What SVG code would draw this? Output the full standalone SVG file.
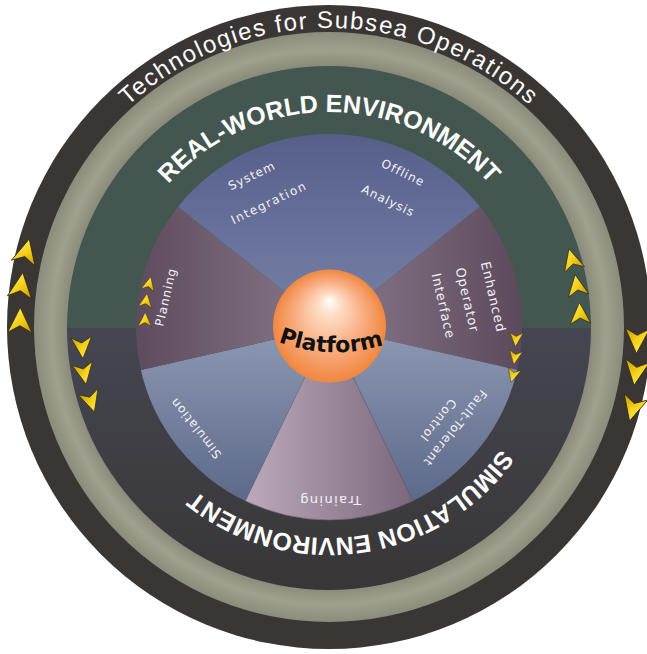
<svg xmlns="http://www.w3.org/2000/svg" xmlns:xlink="http://www.w3.org/1999/xlink" width="647" height="654" viewBox="0 0 647 654">
<defs>
<style>
.lbl{font-family:"DejaVu Sans",Verdana,sans-serif;fill:#f4f2f6;font-size:12px;letter-spacing:1px;text-anchor:middle}
.big{font-family:"Liberation Sans",Arial,sans-serif;font-weight:bold;fill:#ffffff;font-size:25px;text-anchor:middle}
.chev{fill:url(#gChev);stroke:#2e2a10;stroke-width:0.6}
</style>
<radialGradient id="gGray" cx="329" cy="327" r="295" gradientUnits="userSpaceOnUse">
<stop offset="0.885" stop-color="#8a8a7a"/>
<stop offset="0.94" stop-color="#a0a08e"/>
<stop offset="1" stop-color="#8c8c7c"/>
</radialGradient>
<linearGradient id="gBottom" x1="0" y1="328" x2="0" y2="589" gradientUnits="userSpaceOnUse">
<stop offset="0" stop-color="#454651"/>
<stop offset="1" stop-color="#383636"/>
</linearGradient>
<linearGradient id="gTop" x1="0" y1="134" x2="0" y2="327" gradientUnits="userSpaceOnUse">
<stop offset="0" stop-color="#555f8a"/>
<stop offset="1" stop-color="#7882a8"/>
</linearGradient>
<linearGradient id="gLow" x1="0" y1="340" x2="0" y2="505" gradientUnits="userSpaceOnUse">
<stop offset="0" stop-color="#8a95b0"/>
<stop offset="1" stop-color="#5c6889"/>
</linearGradient>
<linearGradient id="gPlan" x1="136" y1="0" x2="320" y2="0" gradientUnits="userSpaceOnUse">
<stop offset="0" stop-color="#5e4b5e"/>
<stop offset="1" stop-color="#877689"/>
</linearGradient>
<linearGradient id="gEnh" x1="340" y1="0" x2="522" y2="0" gradientUnits="userSpaceOnUse">
<stop offset="0" stop-color="#877689"/>
<stop offset="1" stop-color="#5c4a5c"/>
</linearGradient>
<linearGradient id="gTrain" x1="245" y1="0" x2="413" y2="0" gradientUnits="userSpaceOnUse">
<stop offset="0" stop-color="#bcaabb"/>
<stop offset="1" stop-color="#7a677b"/>
</linearGradient>
<radialGradient id="gSphere" cx="0.5" cy="0.5" r="0.5" fx="0.5" fy="0.27">
<stop offset="0" stop-color="#ffffff"/>
<stop offset="0.18" stop-color="#fde0c8"/>
<stop offset="0.6" stop-color="#f9ad82"/>
<stop offset="1" stop-color="#f0873f"/>
</radialGradient>
<linearGradient id="gChev" x1="0" y1="0" x2="1" y2="1">
<stop offset="0" stop-color="#fff27a"/>
<stop offset="0.5" stop-color="#f6d21c"/>
<stop offset="1" stop-color="#c99a00"/>
</linearGradient>
<path id="chev" d="M0,-10 L9,8.5 L0,3.5 L-9,8.5 Z"/>
<path id="pTitle" d="M30,327 A299,299 0 0 1 628,327" fill="none"/>
<path id="pReal" d="M114,327 A215,215 0 0 1 544,327" fill="none"/>
<path id="pSim" d="M540,327 A211,211 0 0 1 118,327" fill="none"/>
<path id="pPlat" d="M276,341 A160,160 0 0 0 386,344" fill="none"/>
</defs>

<g id="outer-ring">
<circle cx="329" cy="327" r="322" fill="#3a3634"/>
<circle cx="329" cy="327" r="295" fill="url(#gGray)"/>
<text font-family="'Liberation Sans',Arial,sans-serif" font-size="24" fill="#ffffff" letter-spacing="1.6" text-anchor="middle"><textPath href="#pTitle" xlink:href="#pTitle" startOffset="50%">Technologies for Subsea Operations</textPath></text>
</g>

<g id="real-world-environment">
<path d="M67,328 A262,262 0 0 1 591,328 Z" fill="#445650"/>
<text class="big"><textPath href="#pReal" xlink:href="#pReal" startOffset="50%">REAL-WORLD ENVIRONMENT</textPath></text>
</g>

<g id="simulation-environment">
<path d="M591,328 A262,262 0 0 1 67,328 Z" fill="url(#gBottom)"/>
<text class="big"><textPath href="#pSim" xlink:href="#pSim" startOffset="302.7">SIMULATION ENVIRONMENT</textPath></text>
</g>

<g id="offline-analysis">
<path d="M329,327 L329,134 A193,193 0 0 1 479.89,206.67 Z" fill="url(#gTop)"/>
<text class="lbl" transform="translate(403,173) rotate(25.7)" dy="0.32em">Offline</text>
<text class="lbl" transform="translate(388,201) rotate(25.7)" dy="0.32em">Analysis</text>
</g>

<g id="enhanced-operator-interface">
<path d="M329,327 L479.89,206.67 A193,193 0 0 1 517.16,369.95 Z" fill="url(#gEnh)"/>
<text class="lbl" style="font-size:13px" transform="translate(493,297) rotate(77.1)" dy="0.32em">Enhanced</text>
<text class="lbl" style="font-size:13px" transform="translate(467,300) rotate(77.1)" dy="0.32em">Operator</text>
<text class="lbl" style="font-size:13px" transform="translate(443,306) rotate(77.1)" dy="0.32em">Interface</text>
</g>

<g id="fault-tolerant-control">
<path d="M329,327 L517.16,369.95 A193,193 0 0 1 412.74,500.89 Z" fill="url(#gLow)"/>
<text class="lbl" transform="translate(455,428) rotate(128.6)" dy="0.32em">Fault-Tolerant</text>
<text class="lbl" transform="translate(438,420) rotate(128.6)" dy="0.32em">Control</text>
</g>

<g id="training">
<path d="M329,327 L412.74,500.89 A193,193 0 0 1 245.26,500.89 Z" fill="url(#gTrain)" stroke="#6a5a6c" stroke-width="0.6"/>
<text class="lbl" style="font-size:13px;letter-spacing:1.4px" transform="translate(330,500) rotate(180)" dy="0.32em">Training</text>
</g>

<g id="simulation">
<path d="M329,327 L245.26,500.89 A193,193 0 0 1 140.84,369.95 Z" fill="url(#gLow)"/>
<text class="lbl" transform="translate(196,428) rotate(-128.6)" dy="0.32em">Simulation</text>
</g>

<g id="planning">
<path d="M329,327 L140.84,369.95 A193,193 0 0 1 178.11,206.67 Z" fill="url(#gPlan)"/>
<text class="lbl" transform="translate(166,297) rotate(-77.1)" dy="0.32em">Planning</text>
</g>

<g id="system-integration">
<path d="M329,327 L178.11,206.67 A193,193 0 0 1 329,134 Z" fill="url(#gTop)"/>
<text class="lbl" transform="translate(252,176) rotate(-25.7)" dy="0.32em">System</text>
<text class="lbl" style="letter-spacing:1.5px" transform="translate(269,203) rotate(-25.7)" dy="0.32em">Integration</text>
</g>

<g id="platform">
<circle cx="329.5" cy="326" r="56.5" fill="url(#gSphere)"/>
<text font-family="'DejaVu Sans',Verdana,sans-serif" font-weight="bold" font-size="22" fill="#111111" text-anchor="middle"><textPath href="#pPlat" xlink:href="#pPlat" startOffset="50%">Platform</textPath></text>
</g>

<g id="connectors">
<use href="#chev" xlink:href="#chev" class="chev" transform="translate(26,252) rotate(14) scale(1.35)"/>
<use href="#chev" xlink:href="#chev" class="chev" transform="translate(21,286) rotate(7.6) scale(1.35)"/>
<use href="#chev" xlink:href="#chev" class="chev" transform="translate(20,321) rotate(1) scale(1.35)"/>
<use href="#chev" xlink:href="#chev" class="chev" transform="translate(82,347) rotate(175.4) scale(1.15)"/>
<use href="#chev" xlink:href="#chev" class="chev" transform="translate(84,373) rotate(169.4) scale(1.15)"/>
<use href="#chev" xlink:href="#chev" class="chev" transform="translate(91,401) rotate(162.7) scale(1.15)"/>
<use href="#chev" xlink:href="#chev" class="chev" transform="translate(572,260) rotate(-15.4) scale(1.15)"/>
<use href="#chev" xlink:href="#chev" class="chev" transform="translate(577,286) rotate(-9.4) scale(1.15)"/>
<use href="#chev" xlink:href="#chev" class="chev" transform="translate(580,314) rotate(-3) scale(1.15)"/>
<use href="#chev" xlink:href="#chev" class="chev" transform="translate(637,340) rotate(182.4) scale(1.35)"/>
<use href="#chev" xlink:href="#chev" class="chev" transform="translate(636,372) rotate(188.3) scale(1.35)"/>
<use href="#chev" xlink:href="#chev" class="chev" transform="translate(633,408) rotate(194.9) scale(1.35)"/>
<use href="#chev" xlink:href="#chev" class="chev" transform="translate(149,284) rotate(13.4) scale(0.75)"/>
<use href="#chev" xlink:href="#chev" class="chev" transform="translate(146,301) rotate(8) scale(0.75)"/>
<use href="#chev" xlink:href="#chev" class="chev" transform="translate(145,320) rotate(2) scale(0.75)"/>
<use href="#chev" xlink:href="#chev" class="chev" transform="translate(516,339) rotate(183.7) scale(0.75)"/>
<use href="#chev" xlink:href="#chev" class="chev" transform="translate(515,357) rotate(189.2) scale(0.75)"/>
<use href="#chev" xlink:href="#chev" class="chev" transform="translate(513,375) rotate(194.6) scale(0.75)"/>
</g>
</svg>
